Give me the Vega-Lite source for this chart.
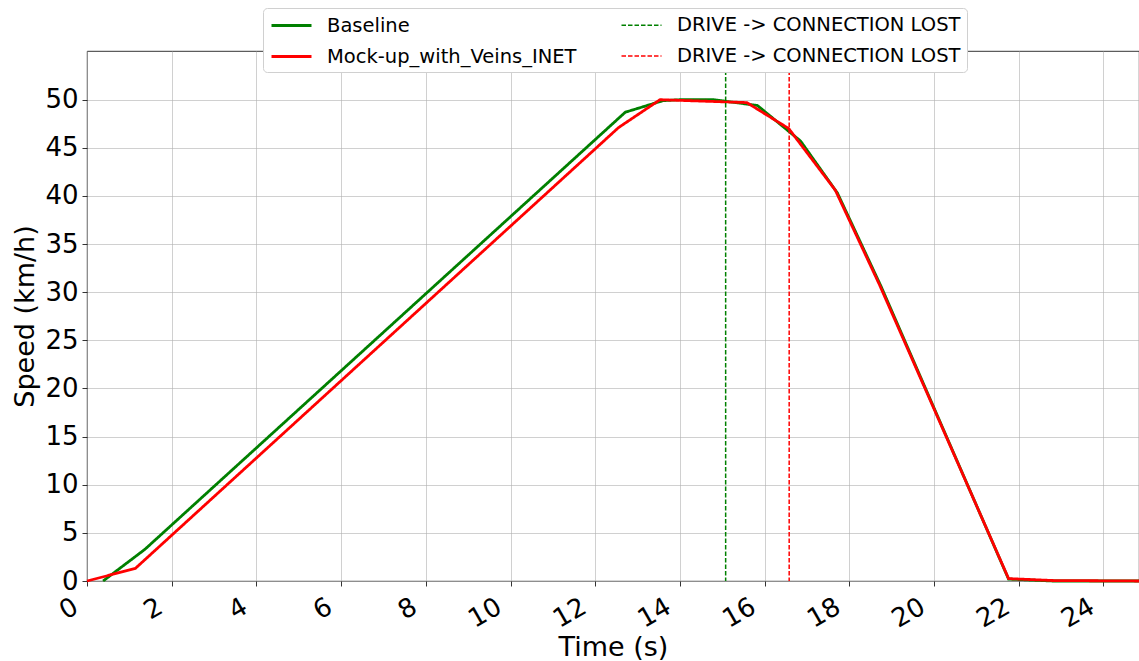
{
  "$schema": "https://vega.github.io/schema/vega-lite/v6.json",
  "width": 1052,
  "height": 530,
  "autosize": {"type": "none"},
  "padding": {"left": 87, "top": 51, "right": 0, "bottom": 80},
  "background": "white",
  "config": {
    "font": "DejaVu Sans",
    "view": {"stroke": "#000000", "strokeWidth": 0.8},
    "axis": {
      "gridColor": "#b0b0b0",
      "gridOpacity": 0.75,
      "gridWidth": 0.8,
      "domain": false,
      "tickColor": "#000000",
      "tickSize": 5,
      "tickWidth": 0.8,
      "labelColor": "#000000",
      "titleColor": "#000000",
      "labelFont": "DejaVu Sans",
      "titleFont": "DejaVu Sans",
      "labelFontSize": 26,
      "titleFontSize": 27,
      "titleFontWeight": "normal"
    }
  },
  "datasets": {
    "speeds": [
      {"t": 0.38, "v": 0.0, "series": "Baseline"},
      {"t": 1.37, "v": 3.3, "series": "Baseline"},
      {"t": 12.71, "v": 48.7, "series": "Baseline"},
      {"t": 13.6, "v": 49.9, "series": "Baseline"},
      {"t": 14.0, "v": 50.0, "series": "Baseline"},
      {"t": 14.8, "v": 50.0, "series": "Baseline"},
      {"t": 15.83, "v": 49.4, "series": "Baseline"},
      {"t": 16.85, "v": 45.7, "series": "Baseline"},
      {"t": 17.72, "v": 40.3, "series": "Baseline"},
      {"t": 18.75, "v": 30.6, "series": "Baseline"},
      {"t": 21.76, "v": 0.2, "series": "Baseline"},
      {"t": 22.8, "v": 0.0, "series": "Baseline"},
      {"t": 24.84, "v": 0.0, "series": "Baseline"},
      {"t": 0.0, "v": 0.0, "series": "Mock-up_with_Veins_INET"},
      {"t": 1.14, "v": 1.3, "series": "Mock-up_with_Veins_INET"},
      {"t": 12.55, "v": 47.1, "series": "Mock-up_with_Veins_INET"},
      {"t": 13.53, "v": 50.0, "series": "Mock-up_with_Veins_INET"},
      {"t": 15.58, "v": 49.7, "series": "Mock-up_with_Veins_INET"},
      {"t": 16.57, "v": 47.0, "series": "Mock-up_with_Veins_INET"},
      {"t": 17.67, "v": 40.6, "series": "Mock-up_with_Veins_INET"},
      {"t": 18.72, "v": 30.7, "series": "Mock-up_with_Veins_INET"},
      {"t": 21.76, "v": 0.25, "series": "Mock-up_with_Veins_INET"},
      {"t": 22.8, "v": 0.05, "series": "Mock-up_with_Veins_INET"},
      {"t": 24.84, "v": 0.0, "series": "Mock-up_with_Veins_INET"}
    ],
    "events": [
      {"t": 15.08, "series": "Baseline_drive"},
      {"t": 16.58, "series": "Mock-up_with_Veins_INET_drive"}
    ]
  },
  "encoding": {
    "x": {
      "field": "t",
      "type": "quantitative",
      "scale": {"domain": [0, 24.84], "nice": false, "zero": false},
      "axis": {
        "title": "Time (s)",
        "values": [0, 2, 4, 6, 8, 10, 12, 14, 16, 18, 20, 22, 24],
        "labelAngle": -30,
        "labelAlign": "right",
        "labelBaseline": "top",
        "labelPadding": 7,
        "labelOffset": -18,
        "labelOverlap": false,
        "labelFlush": false,
        "titleY": 74,
        "titleBaseline": "alphabetic"
      }
    },
    "color": {
      "field": "series",
      "type": "nominal",
      "scale": {
        "domain": ["Baseline", "Baseline_drive", "Mock-up_with_Veins_INET", "Mock-up_with_Veins_INET_drive"],
        "range": ["#008000", "#008000", "#ff0000", "#ff0000"]
      },
      "legend": {
        "orient": "none",
        "legendX": 176,
        "legendY": -43,
        "columns": 2,
        "title": null,
        "values": ["Baseline", "Mock-up_with_Veins_INET", "Baseline_drive", "Mock-up_with_Veins_INET_drive"],
        "symbolType": "M-2,0H2",
        "symbolSize": 400,
        "symbolOffset": 11,
        "labelFontSize": 19.5,
        "labelFont": "DejaVu Sans",
        "labelColor": "#000000",
        "labelLimit": 400,
        "labelOffset": 24,
        "labelExpr": "datum.label == 'Baseline_drive' || datum.label == 'Mock-up_with_Veins_INET_drive' ? 'DRIVE -> CONNECTION LOST' : datum.label",
        "fillColor": "white",
        "strokeColor": "#d0d0d0",
        "cornerRadius": 4,
        "padding": 6,
        "columnPadding": 41,
        "rowPadding": 10
      }
    },
    "strokeDash": {
      "field": "series",
      "type": "nominal",
      "scale": {
        "type": "ordinal",
        "domain": ["Baseline", "Baseline_drive", "Mock-up_with_Veins_INET", "Mock-up_with_Veins_INET_drive"],
        "range": [[1, 0], [4.5, 2], [1, 0], [4.5, 2]]
      }
    },
    "strokeWidth": {
      "field": "series",
      "type": "nominal",
      "scale": {
        "type": "ordinal",
        "domain": ["Baseline", "Baseline_drive", "Mock-up_with_Veins_INET", "Mock-up_with_Veins_INET_drive"],
        "range": [2.8, 1.5, 2.8, 1.5]
      }
    }
  },
  "layer": [
    {
      "data": {"name": "speeds"},
      "mark": {"type": "line"},
      "encoding": {
        "y": {
          "field": "v",
          "type": "quantitative",
          "scale": {"domain": [0, 55.06], "nice": false},
          "axis": {
            "title": "Speed (km/h)",
            "values": [0, 5, 10, 15, 20, 25, 30, 35, 40, 45, 50],
            "labelPadding": 4,
            "titleAngle": -90,
            "titleX": -54,
            "titleY": 265,
            "titleAlign": "center",
            "titleBaseline": "alphabetic"
          }
        }
      }
    },
    {
      "data": {"name": "events"},
      "mark": {"type": "rule"},
      "encoding": {}
    }
  ]
}
